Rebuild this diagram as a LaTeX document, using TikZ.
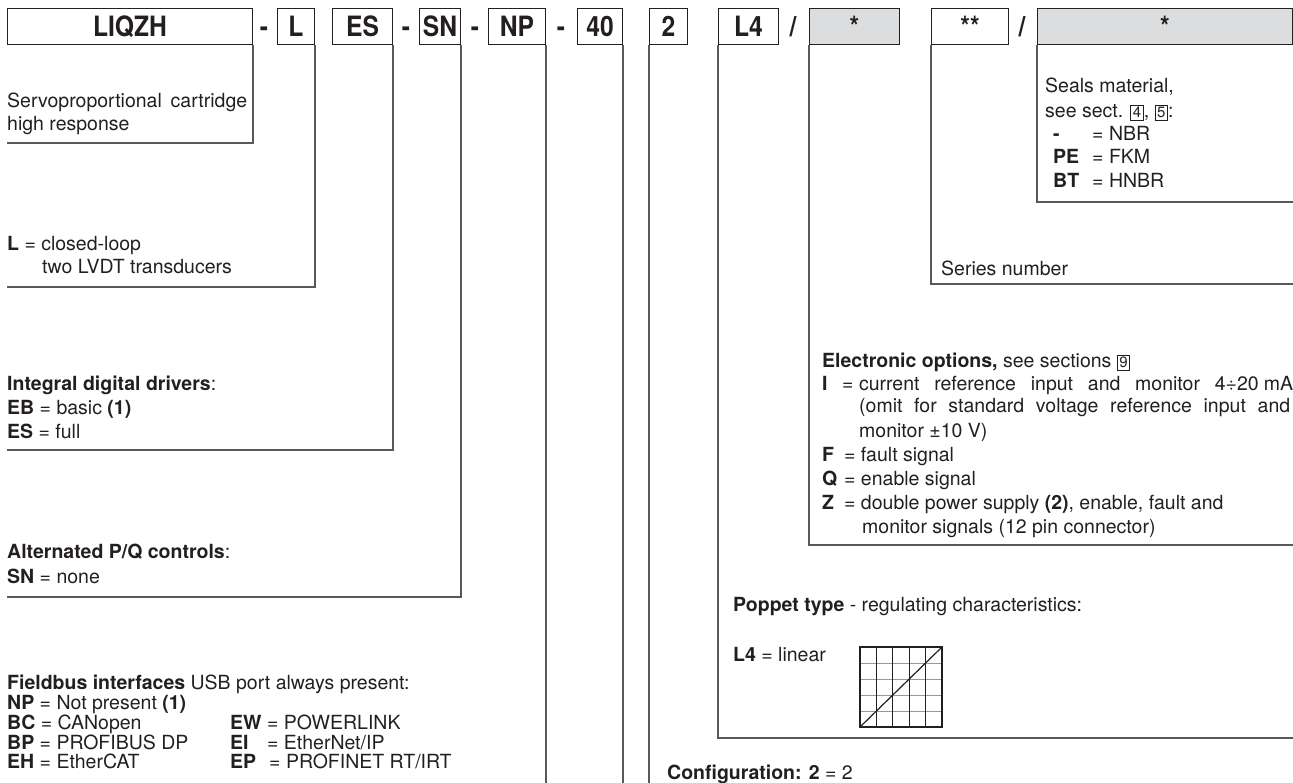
\documentclass[tikz,border=0pt]{standalone}
\usepackage{fontspec}
\setmainfont{TeX Gyre Heros}
\newfontfamily\headfont[FakeStretch=0.88]{TeX Gyre Heros}
\usepackage{tikz}

\definecolor{ink}{HTML}{231F20}
\definecolor{boxgrey}{HTML}{DCDDDF}
\definecolor{leadgrey}{HTML}{58595B}

% boxed section number and fixed width bold key
\newcommand{\secnum}[1]{{\setlength{\fboxsep}{1.6pt}\setlength{\fboxrule}{0.9pt}\fbox{\fontsize{15}{15}\selectfont #1}}}
\newcommand{\keyw}[2]{\makebox[#1][l]{\textbf{#2}}}

\tikzset{
  codebox/.style={draw=ink, line width=1pt, anchor=west, inner sep=0pt, minimum height=36pt,
    text height=20pt, text depth=0pt, font=\headfont\fontsize{28}{28}\selectfont\bfseries, text=ink},
  greybox/.style={codebox, fill=boxgrey},
  sepmark/.style={inner sep=0pt, text height=20pt, text depth=0pt,
    font=\headfont\fontsize{28}{28}\selectfont\bfseries, text=ink},
  lead/.style={draw=leadgrey, line width=1.2pt},
  txt/.style={anchor=base west, inner sep=0pt, font=\fontsize{19.5}{23}\selectfont, text=ink},
}

\begin{document}
\begin{tikzpicture}[x=1pt,y=-1pt]
	\useasboundingbox (0,0) rectangle (1293,783);
	% code row
	\node[codebox, minimum width=245pt] (liqzh) at (7,27) {LIQZH};
	\node[sepmark] (dashA) at (264,27) {-};
	\node[codebox, minimum width=37pt] (loop) at (277,27) {L};
	\node[codebox, minimum width=60pt] (drv) at (332,27) {ES};
	\node[sepmark] (dashB) at (406,27) {-};
	\node[codebox, minimum width=41pt] (alt) at (419,27) {SN};
	\node[sepmark] (dashC) at (475,27) {-};
	\node[codebox, minimum width=57pt] (bus) at (488,27) {NP};
	\node[sepmark] (dashD) at (561,27) {-};
	\node[codebox, minimum width=45pt] (size) at (577,27) {40};
	\node[codebox, minimum width=38pt] (conf) at (649,27) {2};
	\node[codebox, minimum width=60pt] (poppet) at (718,27) {L4};
	\node[sepmark] (slashA) at (793,27) {/};
	\node[greybox, minimum width=90pt] (opt) at (809,27) {*};
	\node[codebox, minimum width=77pt] (series) at (931,27) {**};
	\node[sepmark] (slashB) at (1022,27) {/};
	\node[greybox, minimum width=255pt] (seal) at (1037,27) {*};
	%
	% left hand descriptions
	\coordinate (liqzhEnd) at (7,143);
	\draw[lead] (liqzh.south east) |- (liqzhEnd);
	\node[txt] (liqzhA) at (7,108) {\makebox[240pt][s]{Servoproportional cartridge}};
	\node[txt] (liqzhB) at (7,131) {high response};
	%
	\coordinate (loopEnd) at (7,287);
	\draw[lead] (loop.south east) |- (loopEnd);
	\node[txt] (loopA) at (7,251) {\textbf{L} = closed-loop};
	\node[txt] (loopB) at (42,274) {two LVDT transducers};
	%
	\coordinate (drvEnd) at (7,450);
	\draw[lead] (drv.south east) |- (drvEnd);
	\node[txt] (drvA) at (7,391) {\textbf{Integral digital drivers}:};
	\node[txt] (drvB) at (7,414) {\textbf{EB} = basic \textbf{(1)}};
	\node[txt] (drvC) at (7,438) {\textbf{ES} = full};
	%
	\coordinate (altEnd) at (7,597);
	\draw[lead] (alt.south east) |- (altEnd);
	\node[txt] (altA) at (7,558) {\textbf{Alternated P/Q controls}:};
	\node[txt] (altB) at (7,583) {\textbf{SN} = none};
	%
	\coordinate (busEnd) at (545,790);
	\draw[lead] (bus.south east) -- (bus.south east |- busEnd);
	\node[txt] (busA) at (7,689) {\textbf{Fieldbus interfaces} USB port always present:};
	\node[txt] (busB) at (7,709) {\textbf{NP} = Not present \textbf{(1)}};
	\node[txt] (busC) at (7,729) {\textbf{BC} = CANopen};
	\node[txt] (busD) at (7,749) {\textbf{BP} = PROFIBUS DP};
	\node[txt] (busE) at (7,768) {\textbf{EH} = EtherCAT};
	\node[txt] (busF) at (230,729) {\keyw{37pt}{EW}= POWERLINK};
	\node[txt] (busG) at (230,749) {\keyw{37pt}{EI}= EtherNet/IP};
	\node[txt] (busH) at (230,768) {\keyw{39pt}{EP}= PROFINET RT/IRT};
	%
	\coordinate (sizeEnd) at (622,790);
	\draw[lead] (size.south east) -- (size.south east |- sizeEnd);
	%
	\coordinate (confEnd) at (649,790);
	\draw[lead] (conf.south west) -- (conf.south west |- confEnd);
	\node[txt] (confA) at (667,779) {\textbf{Configuration: 2} = 2};
	%
	% right hand descriptions
	\coordinate (poppetEnd) at (1293,738);
	\draw[lead] (poppet.south west) |- (poppetEnd);
	\node[txt] (poppetA) at (733,611) {\textbf{Poppet type} - regulating characteristics:};
	\node[txt] (poppetB) at (733,661) {\textbf{L4} = linear};
		\foreach \i in {1,...,4}
			\draw[black!40, line width=1pt] (860,647+\i*16) -- (942,647+\i*16);
		\foreach \i in {1,...,4}
			\draw[ink, line width=1pt] (860+\i*16.4,647) -- (860+\i*16.4,727);
		\draw[ink, line width=1.1pt] (860,647) rectangle (942,727);
		\draw[ink, line width=1.2pt] (860,727) -- (942,647);
	%
	\coordinate (optEnd) at (1293,545);
	\draw[lead] (opt.south west) |- (optEnd);
	\node[txt] (optA) at (822,368) {\textbf{Electronic options,} see sections \secnum{9}};
	\node[txt] (optB) at (822,391) {\keyw{20pt}{I}= \makebox[434pt][s]{current reference input and monitor 4÷20\kern5pt mA}};
	\node[txt] (optC) at (859,413) {\makebox[431pt][s]{(omit for standard voltage reference input and}};
	\node[txt] (optD) at (859,437) {monitor ±10~V)};
	\node[txt] (optE) at (822,461) {\keyw{22pt}{F}= fault signal};
	\node[txt] (optF) at (822,485) {\keyw{22pt}{Q}= enable signal};
	\node[txt] (optG) at (822,509) {\keyw{22pt}{Z}= double power supply \textbf{(2)}, enable, fault and};
	\node[txt] (optH) at (862,533) {monitor signals (12 pin connector)};
	%
	\coordinate (seriesEnd) at (1293,284);
	\draw[lead] (series.south west) |- (seriesEnd);
	\node[txt] (seriesA) at (941,276) {Series number};
	%
	\coordinate (sealEnd) at (1293,202);
	\draw[lead] (seal.south west) |- (sealEnd);
	\node[txt] (sealA) at (1045,93) {Seals material,};
	\node[txt] (sealB) at (1045,118) {see sect. \secnum{4}, \secnum{5}:};
	\node[txt] (sealC) at (1053,141) {\keyw{39pt}{-}= NBR};
	\node[txt] (sealD) at (1053,164) {\keyw{39pt}{PE}= FKM};
	\node[txt] (sealE) at (1053,188) {\keyw{39pt}{BT}= HNBR};
\end{tikzpicture}
\end{document}
